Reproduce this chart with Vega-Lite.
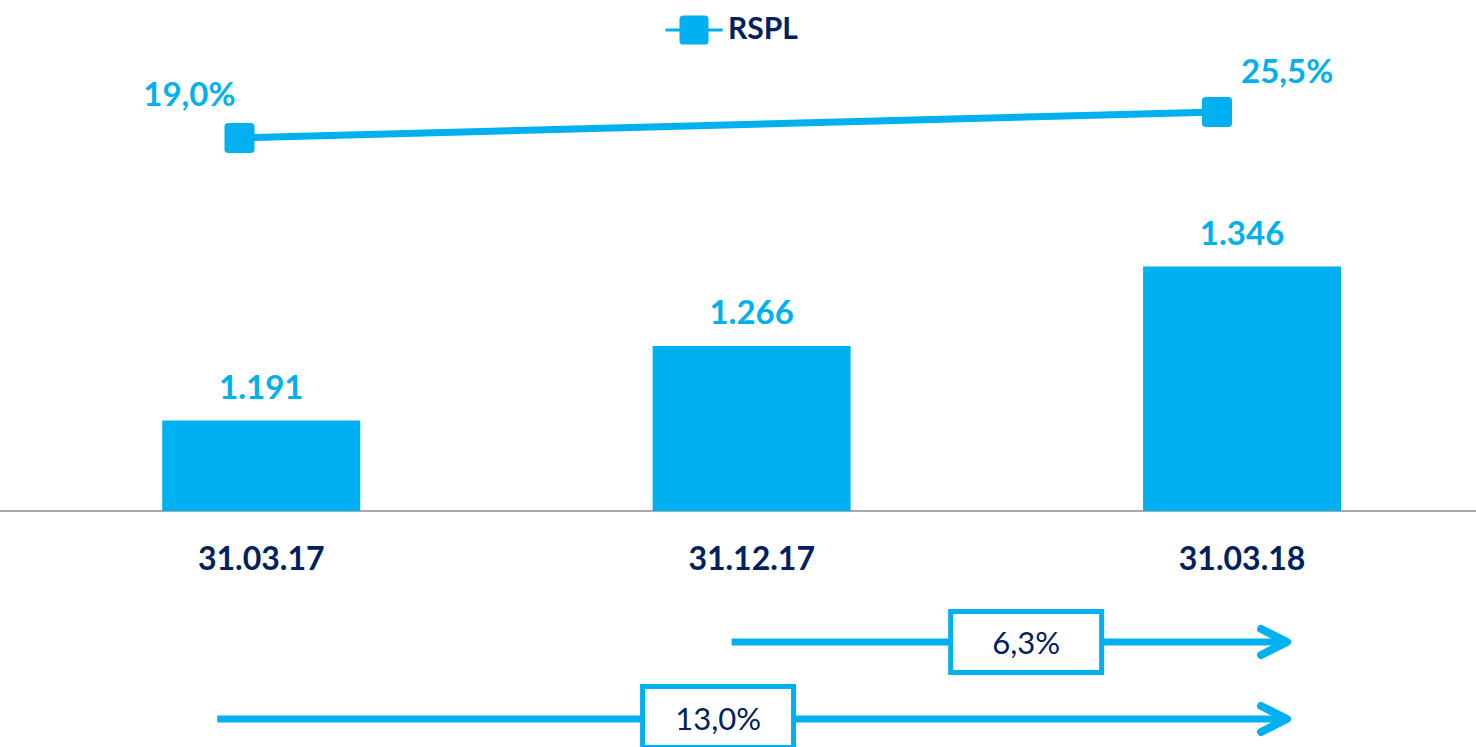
{
  "$schema": "https://vega.github.io/schema/vega-lite/v6.json",
  "width": 1476,
  "height": 747,
  "autosize": {"type": "none"},
  "padding": 0,
  "background": "white",
  "config": {
    "view": {"stroke": null},
    "locale": {"number": {"decimal": ",", "thousands": ".", "grouping": [3], "currency": ["", " €"]}},
    "text": {"font": "Lato"}
  },
  "datasets": {
    "bars": [
      {"date": "31.03.17", "idx": 0, "rspl": 1191},
      {"date": "31.12.17", "idx": 1, "rspl": 1266},
      {"date": "31.03.18", "idx": 2, "rspl": 1346}
    ],
    "ratio": [
      {"date": "31.03.17", "idx": 0, "ratio": 0.19, "series": "RSPL"},
      {"date": "31.03.18", "idx": 2, "ratio": 0.255, "series": "RSPL"}
    ],
    "growth": [
      {"label": "6,3%", "from": 1, "to": 2, "growth": 0.063},
      {"label": "13,0%", "from": 0, "to": 2, "growth": 0.13}
    ]
  },
  "layer": [
    {
      "data": {"name": "bars"},
      "layer": [
        {
          "data": {"values": [{"base": 1100}]},
          "mark": {"type": "rule", "color": "#8c8c8c", "strokeWidth": 1.5},
          "encoding": {
            "y": {"field": "base", "type": "quantitative", "scale": {"domain": [862.5, 1614.3], "nice": false, "zero": false}, "axis": null}
          }
        },
        {
          "mark": {"type": "bar", "size": 198, "color": "#00B0F0"},
          "encoding": {
            "x": {"field": "idx", "type": "quantitative", "scale": {"domain": [-0.5225, 2.4668], "nice": false, "zero": false}, "axis": null},
            "y": {"field": "rspl", "type": "quantitative", "scale": {"domain": [862.5, 1614.3], "nice": false, "zero": false}, "axis": null},
            "y2": {"datum": 1100}
          }
        },
        {
          "mark": {"type": "text", "font": "Lato", "fontSize": 33, "fontWeight": "bold", "color": "#00B0F0", "baseline": "alphabetic", "dy": -22},
          "encoding": {
            "x": {"field": "idx", "type": "quantitative", "scale": {"domain": [-0.5225, 2.4668], "nice": false, "zero": false}, "axis": null},
            "y": {"field": "rspl", "type": "quantitative", "scale": {"domain": [862.5, 1614.3], "nice": false, "zero": false}, "axis": null},
            "text": {"field": "rspl", "type": "quantitative", "format": ",d"}
          }
        },
        {
          "mark": {"type": "text", "font": "Lato", "fontSize": 32, "fontWeight": "bold", "color": "#002060", "baseline": "alphabetic", "dy": 59},
          "encoding": {
            "x": {"field": "idx", "type": "quantitative", "scale": {"domain": [-0.5225, 2.4668], "nice": false, "zero": false}, "axis": null},
            "y": {"datum": 1100, "scale": {"domain": [862.5, 1614.3], "nice": false, "zero": false}, "axis": null},
            "text": {"field": "date", "type": "nominal"}
          }
        },
        {
          "data": {"name": "growth"},
          "transform": [{"filter": "datum.from === 1"}],
          "mark": {"type": "rule", "color": "#00B0F0", "strokeWidth": 7, "xOffset": -20, "x2Offset": 42, "yOffset": 131, "y2Offset": 131},
          "encoding": {
            "x": {"field": "from", "type": "quantitative", "scale": {"domain": [-0.5225, 2.4668], "nice": false, "zero": false}, "axis": null},
            "x2": {"field": "to"},
            "y": {"datum": 1100, "scale": {"domain": [862.5, 1614.3], "nice": false, "zero": false}, "axis": null}
          }
        },
        {
          "data": {"name": "growth"},
          "transform": [{"filter": "datum.from === 0"}],
          "mark": {"type": "rule", "color": "#00B0F0", "strokeWidth": 7, "xOffset": -44, "x2Offset": 42, "yOffset": 208, "y2Offset": 208},
          "encoding": {
            "x": {"field": "from", "type": "quantitative", "scale": {"domain": [-0.5225, 2.4668], "nice": false, "zero": false}, "axis": null},
            "x2": {"field": "to"},
            "y": {"datum": 1100, "scale": {"domain": [862.5, 1614.3], "nice": false, "zero": false}, "axis": null}
          }
        },
        {
          "data": {"name": "growth"},
          "transform": [{"filter": "datum.from === 1"}],
          "mark": {"type": "point", "shape": "M-2,-1L0,0L-2,1", "size": 676, "filled": false, "stroke": "#00B0F0", "strokeWidth": 8, "strokeCap": "round", "strokeJoin": "round", "opacity": 1, "xOffset": 45, "yOffset": 131},
          "encoding": {
            "x": {"field": "to", "type": "quantitative", "scale": {"domain": [-0.5225, 2.4668], "nice": false, "zero": false}, "axis": null},
            "y": {"datum": 1100, "scale": {"domain": [862.5, 1614.3], "nice": false, "zero": false}, "axis": null}
          }
        },
        {
          "data": {"name": "growth"},
          "transform": [{"filter": "datum.from === 0"}],
          "mark": {"type": "point", "shape": "M-2,-1L0,0L-2,1", "size": 676, "filled": false, "stroke": "#00B0F0", "strokeWidth": 8, "strokeCap": "round", "strokeJoin": "round", "opacity": 1, "xOffset": 45, "yOffset": 208},
          "encoding": {
            "x": {"field": "to", "type": "quantitative", "scale": {"domain": [-0.5225, 2.4668], "nice": false, "zero": false}, "axis": null},
            "y": {"datum": 1100, "scale": {"domain": [862.5, 1614.3], "nice": false, "zero": false}, "axis": null}
          }
        },
        {
          "data": {"name": "growth"},
          "transform": [{"filter": "datum.from === 1"}],
          "mark": {"type": "point", "shape": "M-2.475,-1H2.475V1H-2.475Z", "size": 3721, "filled": true, "fill": "white", "stroke": "#00B0F0", "strokeWidth": 5, "opacity": 1, "xOffset": 274.5, "yOffset": 131},
          "encoding": {
            "x": {"field": "from", "type": "quantitative", "scale": {"domain": [-0.5225, 2.4668], "nice": false, "zero": false}, "axis": null},
            "y": {"datum": 1100, "scale": {"domain": [862.5, 1614.3], "nice": false, "zero": false}, "axis": null}
          }
        },
        {
          "data": {"name": "growth"},
          "transform": [{"filter": "datum.from === 0"}],
          "mark": {"type": "point", "shape": "M-2.475,-1H2.475V1H-2.475Z", "size": 3721, "filled": true, "fill": "white", "stroke": "#00B0F0", "strokeWidth": 5, "opacity": 1, "xOffset": -524, "yOffset": 206},
          "encoding": {
            "x": {"field": "to", "type": "quantitative", "scale": {"domain": [-0.5225, 2.4668], "nice": false, "zero": false}, "axis": null},
            "y": {"datum": 1100, "scale": {"domain": [862.5, 1614.3], "nice": false, "zero": false}, "axis": null}
          }
        },
        {
          "data": {"name": "growth"},
          "transform": [{"filter": "datum.from === 1"}],
          "mark": {"type": "text", "font": "Lato", "fontSize": 31, "color": "#002060", "baseline": "alphabetic", "xOffset": 274.5, "dy": 143},
          "encoding": {
            "x": {"field": "from", "type": "quantitative", "scale": {"domain": [-0.5225, 2.4668], "nice": false, "zero": false}, "axis": null},
            "y": {"datum": 1100, "scale": {"domain": [862.5, 1614.3], "nice": false, "zero": false}, "axis": null},
            "text": {"field": "growth", "type": "quantitative", "format": ".1%"}
          }
        },
        {
          "data": {"name": "growth"},
          "transform": [{"filter": "datum.from === 0"}],
          "mark": {"type": "text", "font": "Lato", "fontSize": 31, "color": "#002060", "baseline": "alphabetic", "xOffset": -524, "dy": 219},
          "encoding": {
            "x": {"field": "to", "type": "quantitative", "scale": {"domain": [-0.5225, 2.4668], "nice": false, "zero": false}, "axis": null},
            "y": {"datum": 1100, "scale": {"domain": [862.5, 1614.3], "nice": false, "zero": false}, "axis": null},
            "text": {"field": "growth", "type": "quantitative", "format": ".1%"}
          }
        }
      ]
    },
    {
      "data": {"name": "ratio"},
      "layer": [
        {
          "mark": {"type": "line", "color": "#00B0F0", "strokeWidth": 7},
          "encoding": {
            "x": {"field": "idx", "type": "quantitative", "scale": {"domain": [-0.49, 2.5299], "nice": false, "zero": false}, "axis": null},
            "y": {"field": "ratio", "type": "quantitative", "scale": {"domain": [-1.3325, 0.535], "nice": false, "zero": false}, "axis": null}
          }
        },
        {
          "mark": {"type": "point", "filled": true, "opacity": 1, "size": 900, "shape": "M-0.75,-1H0.75Q1,-1 1,-0.75V0.75Q1,1 0.75,1H-0.75Q-1,1 -1,0.75V-0.75Q-1,-1 -0.75,-1Z"},
          "encoding": {
            "x": {"field": "idx", "type": "quantitative", "scale": {"domain": [-0.49, 2.5299], "nice": false, "zero": false}, "axis": null},
            "y": {"field": "ratio", "type": "quantitative", "scale": {"domain": [-1.3325, 0.535], "nice": false, "zero": false}, "axis": null},
            "color": {
              "field": "series", "type": "nominal",
              "scale": {"domain": ["RSPL"], "range": ["#00B0F0"]},
              "legend": {
                "title": null, "orient": "none", "legendX": 679, "legendY": 15, "padding": 0,
                "symbolType": "M-1.97,-0.11H1.97V0.11H-1.97Z M-0.75,-1H0.75Q1,-1 1,-0.75V0.75Q1,1 0.75,1H-0.75Q-1,1 -1,0.75V-0.75Q-1,-1 -0.75,-1Z",
                "symbolSize": 841, "symbolOpacity": 1, "symbolStrokeWidth": 0, "symbolFillColor": "#00B0F0",
                "labelFont": "Lato", "labelFontSize": 30, "labelFontWeight": "bold", "labelColor": "#002060", "labelOffset": 19
              }
            }
          }
        },
        {
          "transform": [{"filter": "datum.idx === 0"}],
          "mark": {"type": "text", "font": "Lato", "fontSize": 33, "fontWeight": "bold", "color": "#00B0F0", "align": "right", "baseline": "alphabetic", "dx": -4, "dy": -32},
          "encoding": {
            "x": {"field": "idx", "type": "quantitative", "scale": {"domain": [-0.49, 2.5299], "nice": false, "zero": false}, "axis": null},
            "y": {"field": "ratio", "type": "quantitative", "scale": {"domain": [-1.3325, 0.535], "nice": false, "zero": false}, "axis": null},
            "text": {"field": "ratio", "type": "quantitative", "format": ".1%"}
          }
        },
        {
          "transform": [{"filter": "datum.idx === 2"}],
          "mark": {"type": "text", "font": "Lato", "fontSize": 33, "fontWeight": "bold", "color": "#00B0F0", "align": "left", "baseline": "alphabetic", "dx": 24, "dy": -29},
          "encoding": {
            "x": {"field": "idx", "type": "quantitative", "scale": {"domain": [-0.49, 2.5299], "nice": false, "zero": false}, "axis": null},
            "y": {"field": "ratio", "type": "quantitative", "scale": {"domain": [-1.3325, 0.535], "nice": false, "zero": false}, "axis": null},
            "text": {"field": "ratio", "type": "quantitative", "format": ".1%"}
          }
        }
      ]
    }
  ],
  "resolve": {"scale": {"x": "independent", "y": "independent"}}
}
